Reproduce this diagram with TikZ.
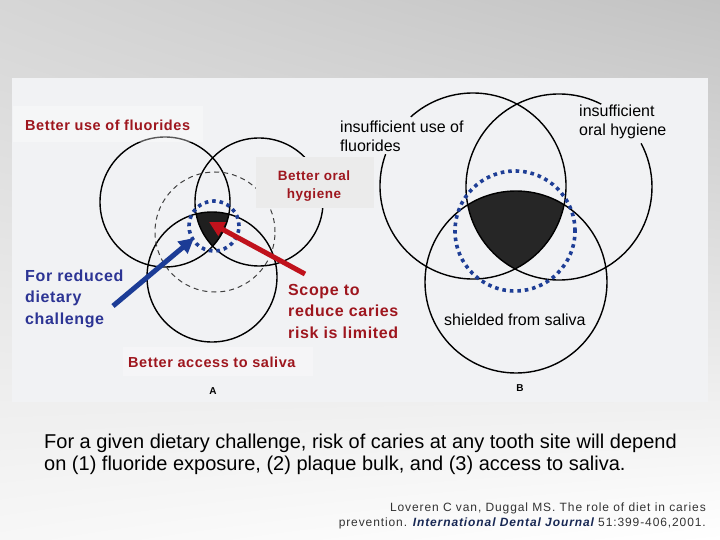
\documentclass[tikz,border=0pt]{standalone}
\usepackage{fontspec}
\setmainfont{Liberation Sans}
\newfontfamily\lblfont[LetterSpace=4]{Liberation Sans}
\newfontfamily\citefont[LetterSpace=7.5]{Liberation Sans}
\usetikzlibrary{arrows.meta,shadings}
\definecolor{lblred}{RGB}{158,22,30}
\definecolor{lblblue}{RGB}{44,52,148}
\definecolor{arrred}{RGB}{192,18,28}
\definecolor{arrblue}{RGB}{28,60,150}
\definecolor{dotblue}{RGB}{30,62,150}
\definecolor{insetbg}{RGB}{241,242,244}
\definecolor{citenavy}{RGB}{24,40,84}
\definecolor{bgUL}{RGB}{214,214,214}
\definecolor{bgUR}{RGB}{195,195,195}
\definecolor{bgLL}{RGB}{247,247,247}
\tikzset{
  venn/.style={draw=black, line width=1.4pt},
  dashcirc/.style={draw=black!75, line width=1pt, dash pattern=on 5pt off 4pt},
  dotcirc/.style={draw=dotblue, line width=3.6pt, dash pattern=on 3.6pt off 3.9pt},
  redlbl/.style={inner sep=0pt, text=lblred, font=\lblfont\bfseries\fontsize{14.5}{21}\selectfont},
  biglbl/.style={inner sep=0pt, align=left, font=\lblfont\bfseries\fontsize{16}{21.5}\selectfont},
  blklbl/.style={inner sep=0pt, text=black, font=\fontsize{16}{19.5}\selectfont},
  fatarrow/.style={line width=5pt, -{Triangle[length=15pt,width=15pt]}},
}
\begin{document}
\begin{tikzpicture}[x=1pt,y=-1pt]
\useasboundingbox (0,0) rectangle (720,540);
\shade[upper left=bgUL, upper right=bgUR, lower left=bgLL, lower right=white] (0,0) rectangle (720,540);
% scanned figure panel
\fill[insetbg] (12,78) rectangle (708,402);

% ---------------- Diagram A ----------------
\begin{scope}
  \clip (165,202) circle[radius=65pt];
  \clip (259,202) circle[radius=64pt];
  \fill[black!88] (212,277) circle[radius=65pt];
\end{scope}
\draw[venn] (165,202) circle[radius=65pt];
\draw[venn] (259,202) circle[radius=64pt];
\draw[venn] (212,277) circle[radius=65pt];
\draw[dashcirc] (215,232) circle[radius=60pt];
\draw[dotcirc] (214,226) circle[radius=25pt];

% ---------------- Diagram B ----------------
\begin{scope}
  \clip (473,186) circle[radius=93pt];
  \clip (559,187) circle[radius=93pt];
  \fill[black!85] (516,282) circle[radius=91pt];
\end{scope}
% polar angles with explicit units are in page orientation (y up)
\draw[venn] (473,186) ++(160:93pt) arc[start angle=160, end angle=492, radius=93pt];
\draw[venn] (559,187) ++(63:93pt) arc[start angle=63, end angle=388, radius=93pt];
\draw[venn] (516,282) circle[radius=91pt];
\draw[dotcirc] (515,231) circle[radius=60pt];

% ---------------- labels ----------------
\fill[white, opacity=0.35] (13,106) rectangle (203,142);
\node[redlbl, anchor=base west] (fluor) at (25,131) {Better use of fluorides};
\fill[black!8] (256,157) rectangle (374,208);
\node[redlbl, anchor=base, align=center, font=\lblfont\bfseries\fontsize{13.5}{18}\selectfont] (oral) at (314,199) {Better oral\\hygiene};
\node[biglbl, text=lblblue, anchor=base west] (diet) at (25,324) {For reduced\\dietary\\challenge};
\node[biglbl, text=lblred, anchor=base west] (scope) at (288,338) {Scope to\\reduce caries\\risk is limited};
\fill[white, opacity=0.3] (123,347) rectangle (313,376);
\node[redlbl, anchor=base west] (saliva) at (128,367) {Better access to saliva};
\node[inner sep=0pt, font=\bfseries\fontsize{10}{10}\selectfont, anchor=base] (labA) at (213,394) {A};

\node[blklbl, anchor=base west, align=left] (insF) at (340,152) {insufficient use of\\fluorides};
\node[blklbl, anchor=base west, align=left] (insO) at (579,136) {insufficient\\oral hygiene};
\node[blklbl, anchor=base west] (shield) at (444,325) {shielded from saliva};
\node[inner sep=0pt, font=\bfseries\fontsize{10}{10}\selectfont, anchor=base] (labB) at (520,391) {B};

% ---------------- arrows ----------------
\coordinate (bstart) at (113,306);
\coordinate (btip) at (194,238);
\coordinate (rstart) at (305,274);
\coordinate (rtip) at (209,222);
\draw[fatarrow, arrblue] (bstart) -- (btip);
\draw[fatarrow, arrred] (rstart) -- (rtip);

% ---------------- caption ----------------
\node[inner sep=0pt, anchor=base west, align=left, font=\fontsize{20}{22}\selectfont] (cap) at (44,470.5)
  {For a given dietary challenge, risk of caries at any tooth site will depend\\on (1) fluoride exposure, (2) plaque bulk, and (3) access to saliva.};
\node[inner sep=0pt, anchor=base east, align=right, text=black!80, font=\citefont\fontsize{12}{15}\selectfont] (cite) at (706,526)
  {Loveren C van, Duggal MS. The role of diet in caries\\prevention. {\color{citenavy}\bfseries\itshape International Dental Journal} 51:399-406,2001.};
\end{tikzpicture}
\end{document}
